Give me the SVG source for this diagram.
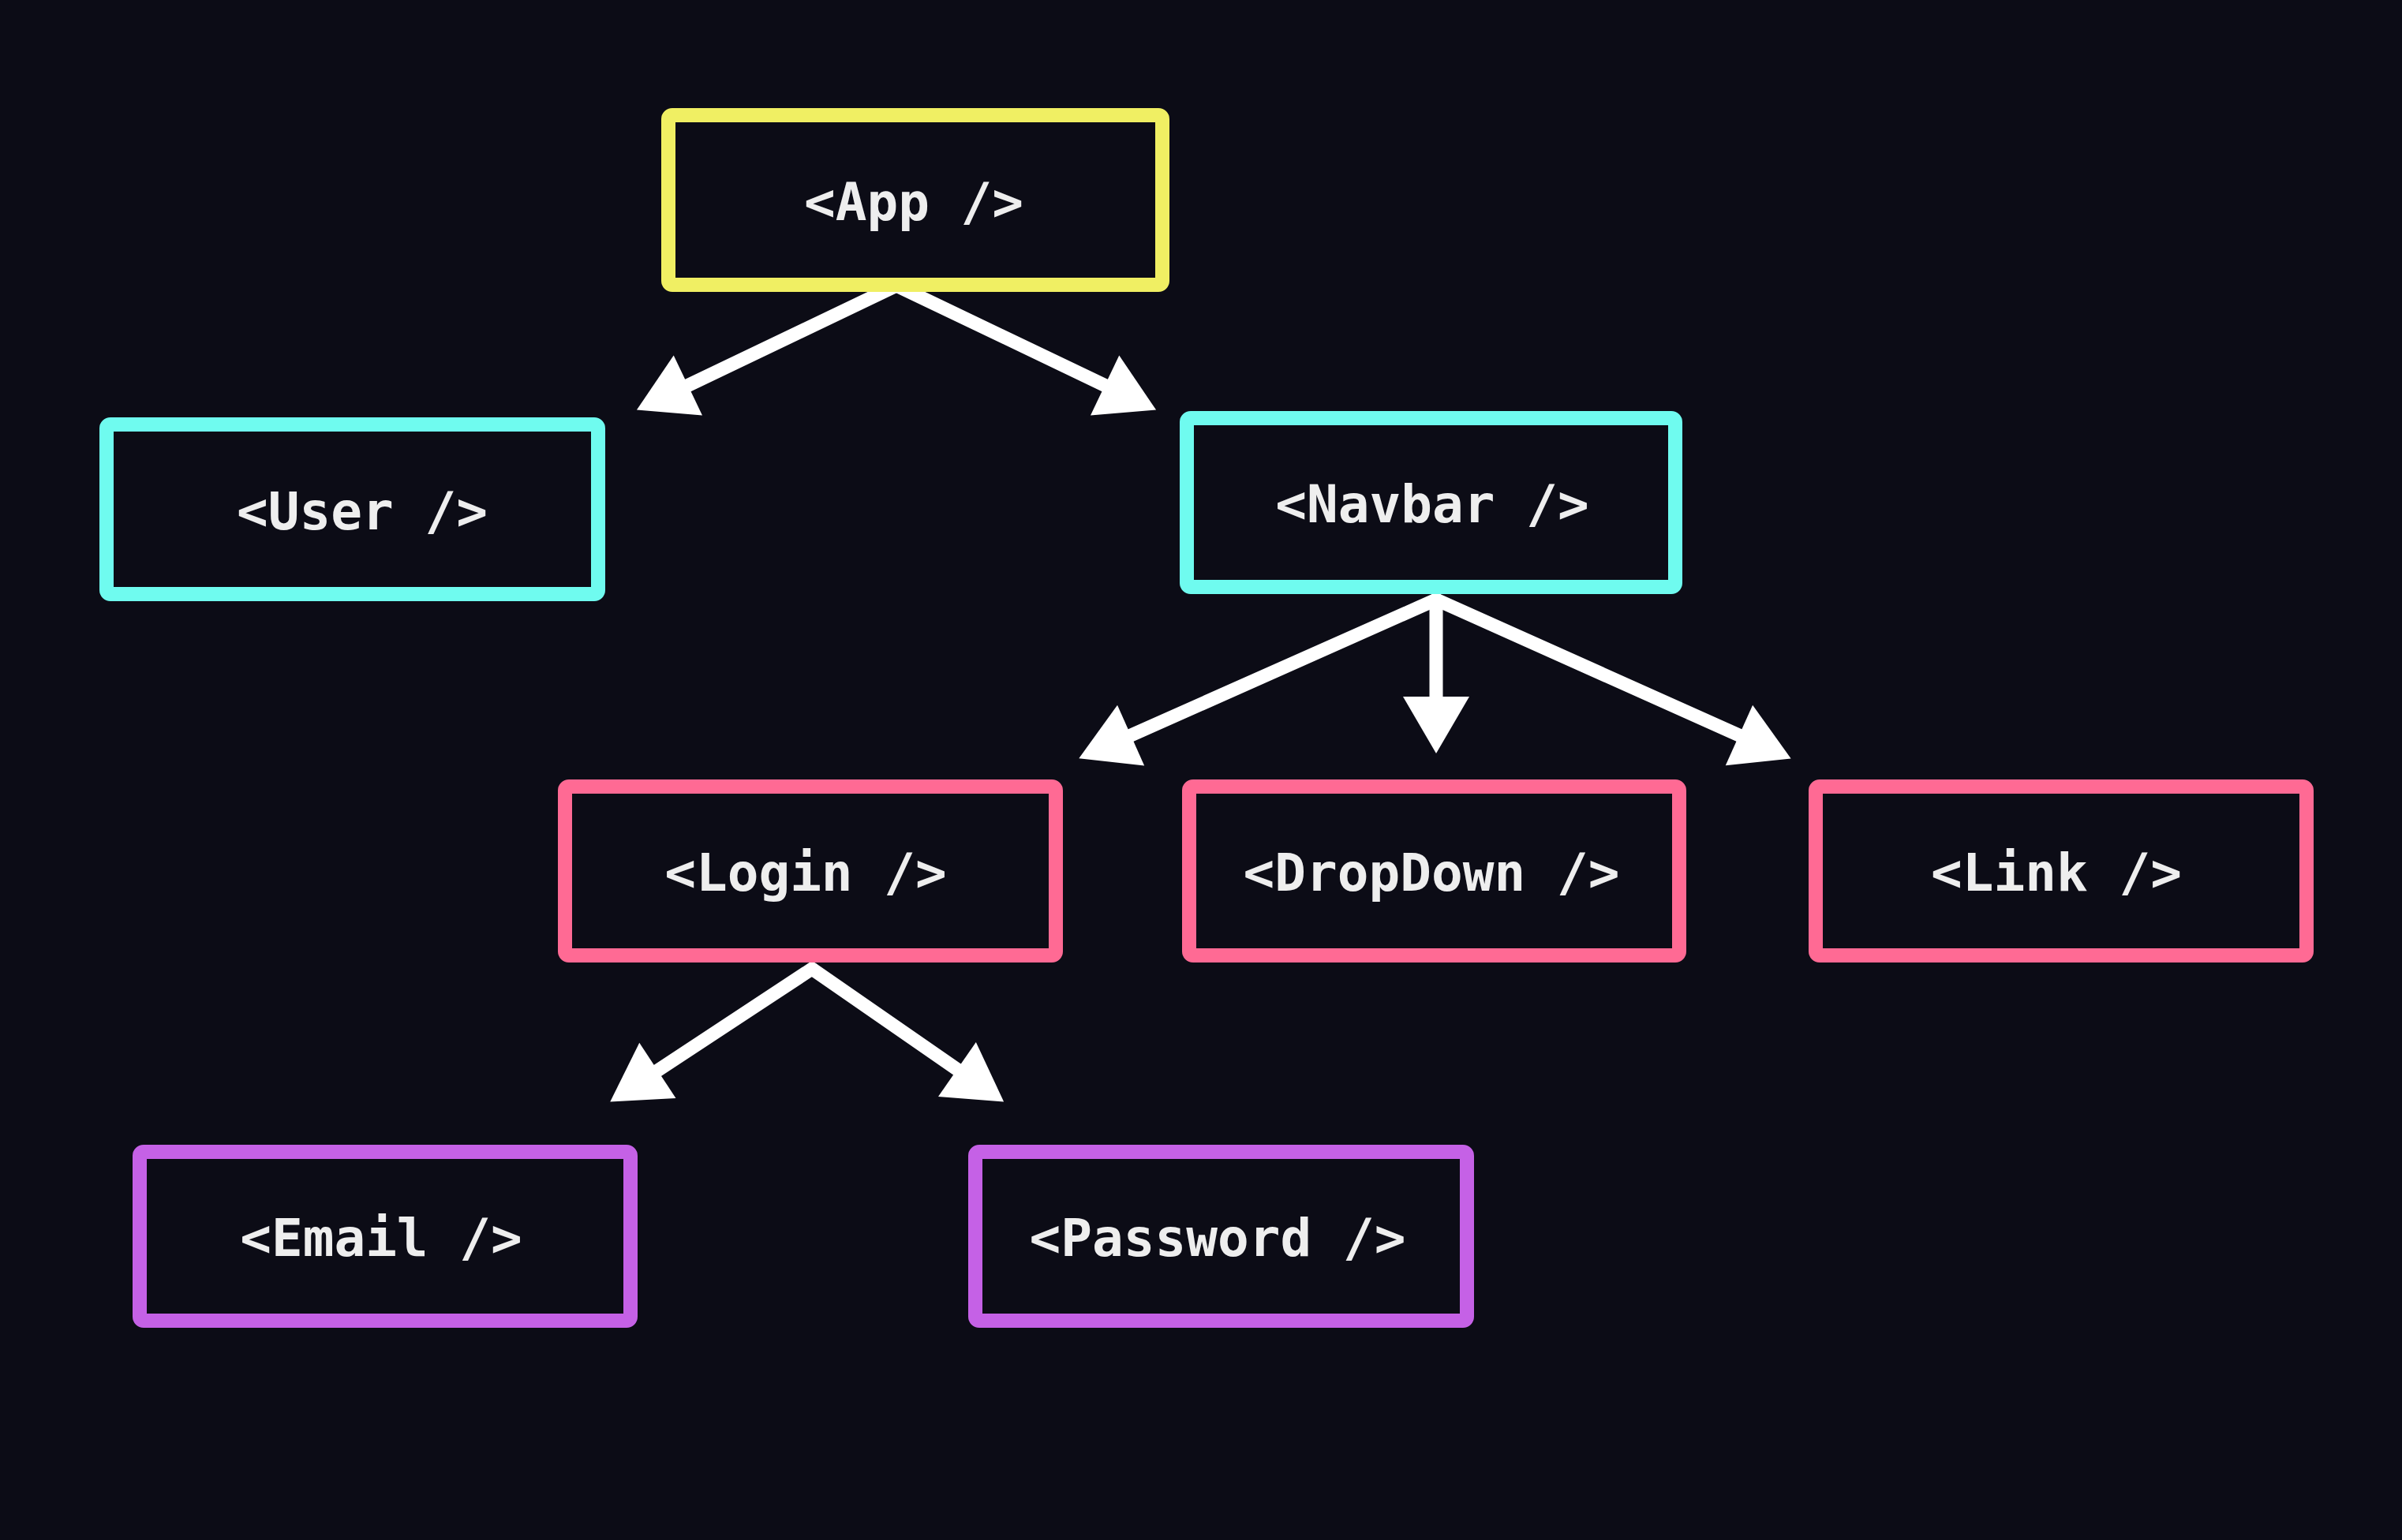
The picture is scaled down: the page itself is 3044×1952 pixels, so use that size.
<svg xmlns="http://www.w3.org/2000/svg" width="3044" height="1952" viewBox="0 0 3044 1952">
<style>
.box{fill:#0c0c16;stroke-width:18}
.y{stroke:#F0EF63}
.c{stroke:#6FFBEF}
.p{stroke:#FF6A94}
.v{stroke:#C561E6}
.lbl{font-family:"DejaVu Sans Mono","Liberation Mono",monospace;font-weight:bold;font-size:66px;fill:#EEEEEE;text-anchor:middle}
.edge{stroke:#FFFFFF;stroke-width:17;stroke-linecap:round;fill:none;marker-end:url(#head)}
</style>
<defs>
<marker id="head" markerUnits="userSpaceOnUse" markerWidth="72" markerHeight="84" refX="22" refY="42" orient="auto" overflow="visible">
<path d="M0,0 L72,42 L0,84 Z" fill="#FFFFFF"/>
</marker>
</defs>
<rect width="3044" height="1952" fill="#0c0c16"/>
<g id="connectors">
<line id="e-app-user" class="edge" x1="1136" y1="362" x2="852" y2="498"/>
<line id="e-app-navbar" class="edge" x1="1136" y1="362" x2="1420" y2="498"/>
<line id="e-navbar-login" class="edge" x1="1820" y1="760" x2="1413" y2="941"/>
<line id="e-navbar-dropdown" class="edge" x1="1820" y1="760" x2="1820" y2="905"/>
<line id="e-navbar-link" class="edge" x1="1820" y1="760" x2="2224" y2="941"/>
<line id="e-login-email" class="edge" x1="1029" y1="1228" x2="815" y2="1369"/>
<line id="e-login-password" class="edge" x1="1029" y1="1228" x2="1231" y2="1368"/>
</g>
<g id="app"><rect class="box y" x="847" y="146" width="626" height="215" rx="5"/><text class="lbl" x="1158" y="279">&lt;App /&gt;</text></g>
<g id="user"><rect class="box c" x="135" y="538" width="623" height="215" rx="5"/><text class="lbl" x="459" y="671">&lt;User /&gt;</text></g>
<g id="navbar"><rect class="box c" x="1504" y="530" width="619" height="214" rx="5"/><text class="lbl" x="1815" y="662">&lt;Navbar /&gt;</text></g>
<g id="login"><rect class="box p" x="716" y="997" width="622" height="214" rx="5"/><text class="lbl" x="1021" y="1129">&lt;Login /&gt;</text></g>
<g id="dropdown"><rect class="box p" x="1507" y="997" width="621" height="214" rx="5"/><text class="lbl" x="1814" y="1129">&lt;DropDown /&gt;</text></g>
<g id="link"><rect class="box p" x="2301" y="997" width="622" height="214" rx="5"/><text class="lbl" x="2606" y="1129">&lt;Link /&gt;</text></g>
<g id="email"><rect class="box v" x="177" y="1460" width="622" height="214" rx="5"/><text class="lbl" x="483" y="1592">&lt;Email /&gt;</text></g>
<g id="password"><rect class="box v" x="1236" y="1460" width="623" height="214" rx="5"/><text class="lbl" x="1543" y="1592">&lt;Password /&gt;</text></g>
</svg>
